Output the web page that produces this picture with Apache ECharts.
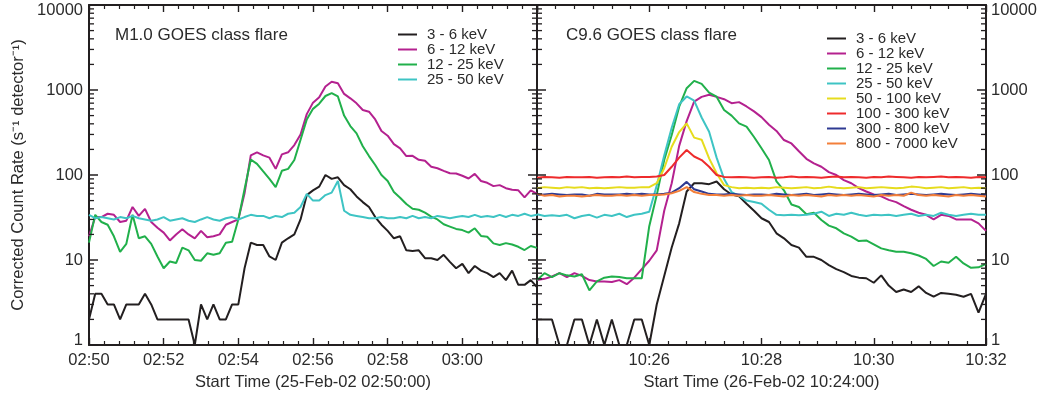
<!DOCTYPE html>
<html>
<head>
<meta charset="utf-8">
<title>RHESSI flare light curves</title>
<script src="https://cdn.jsdelivr.net/npm/echarts@6/dist/echarts.min.js"></script>
<style>
  html, body { margin: 0; padding: 0; background: #ffffff; }
  #chart { width: 1041px; height: 397px; }
</style>
</head>
<body>
<div id="chart"></div>
<script>
// Energy bands and their line colours
const bandNames = ['3 - 6 keV', '6 - 12 keV', '12 - 25 keV', '25 - 50 keV',
                   '50 - 100 keV', '100 - 300 keV', '300 - 800 keV', '800 - 7000 keV'];
const bandColors = ['#231f20', '#b4218f', '#21b04b', '#3ec4c4',
                    '#e6dc1e', '#ee2b2c', '#2e3a92', '#f37f3a'];

// Axis tick labels
const yTickValues = [1, 10, 100, 1000, 10000];
const m1TickLabels = ['02:50', '02:52', '02:54', '02:56', '02:58', '03:00', ''];
const c96TickLabels = ['', '10:26', '10:28', '10:30', '10:32'];

// M1.0 flare, 25-Feb-02 from 02:50:00, one sample every 10 s (counts s^-1 detector^-1)
const m1StepSec = 10;
const m1Rate3to6 = [
  2, 4, 4, 3, 3, 2, 3, 3, 3, 4,
  3, 2, 2, 2, 2, 2, 2, 1, 3, 2,
  3, 2, 2, 3, 3, 8, 16, 15, 15, 11,
  10, 16, 18, 20, 30, 58, 66, 73, 100, 90,
  94, 76, 68, 56, 48, 42, 32, 26, 22, 18,
  19, 13, 12.8, 13, 10.5, 10.5, 10, 11.5, 9.5, 8,
  9, 7, 8.5, 7.5, 7, 6.3, 7, 5.8, 7.5, 5.1,
  5.1, 5.8, 4.8
];
const m1Rate6to12 = [
  19, 32, 32, 35, 34, 28, 29, 42, 33, 40,
  28, 24, 21, 17, 20, 23, 20, 18, 22, 18.5,
  19, 20, 26, 28, 30, 61, 170, 185, 170, 160,
  118, 175, 185, 225, 300, 520, 710, 820, 1100, 1250,
  1200, 900, 798, 697, 582, 556, 450, 330, 290, 231,
  206, 167, 168, 151, 147, 125, 120, 112, 105, 104,
  98, 91, 103, 85, 81, 74, 76, 70, 67, 66,
  54.6, 66, 60
];
const m1Rate12to25 = [
  16, 34, 28, 26, 19, 12.5, 15.5, 34, 18, 19,
  15.5, 11, 8, 9.6, 9.2, 14, 13, 10, 9.8, 12,
  11.5, 12, 16, 16.4, 30, 68, 152, 135, 110, 90,
  72, 112, 118, 150, 260, 450, 600, 690, 850, 920,
  840, 500, 376, 309, 218, 167, 131, 100, 85, 63,
  54, 45.5, 40, 39, 36, 32.4, 30, 26.3, 24.7, 23.2,
  22.5, 21, 23.6, 19.2, 18.8, 15.7, 15, 15.8, 15.2, 14.3,
  13.1, 14.6, 13.9
];
const m1Rate25to50 = [
  34, 31, 32, 31, 30, 32, 31, 33, 31, 30,
  29, 30, 32, 29, 30, 31, 29, 28, 30, 32,
  30, 29, 31, 32, 30, 32, 34, 33, 33, 31,
  33, 32, 35, 36, 42, 60, 50, 50, 58, 62,
  85, 38, 34, 33, 32, 31, 31, 32, 31, 31,
  32, 31, 33, 31, 32, 31, 33, 32, 31, 32,
  33, 32, 34, 32, 33, 32, 34, 32, 34, 33,
  35, 33, 34
];

// C9.6 flare, 26-Feb-02 from 10:24:00, one sample every 8 s
const c96StepSec = 8;
const c96Rate3to6 = [
  2, 2, 2, 1, 1, 2, 2, 1, 2, 1,
  2, 1, 1, 2, 2, 1, 3, 6.5, 14, 27,
  64, 80, 80, 78, 84, 68, 59, 56, 46, 38,
  31, 28, 20.6, 18, 15, 14, 10.9, 10.9, 10, 8.7,
  7.8, 7.2, 6.5, 6.2, 6.1, 5.4, 6.6, 5, 4.2, 4.5,
  4.2, 4.9, 4.1, 3.7, 4.1, 4, 3.9, 3.7, 4, 2.4,
  4
];
const c96Rate6to12 = [
  5.8, 6, 6.4, 7, 6.3, 7, 6.5, 5.8, 5.6, 5.6,
  5.5, 5.8, 5.2, 6.2, 7.8, 9.8, 13, 38, 80, 220,
  430, 730, 830, 880, 830, 780, 700, 720, 640, 560,
  480, 390, 330, 258, 235, 190, 155, 137, 125, 108,
  100, 87, 80, 70, 64, 59, 56, 51, 48, 43,
  39, 36, 34, 30, 34, 33, 30, 30, 30, 27,
  22
];
const c96Rate12to25 = [
  5.8, 7, 6.3, 7, 6.6, 6.4, 6.8, 4.4, 5.6, 6.2,
  6.4, 6.3, 6.1, 6.1, 6.1, 25, 58, 150, 296, 637,
  1050, 1280, 1180, 930, 835, 582, 500, 405, 370, 280,
  206, 150, 84, 66, 45, 42, 34.5, 36, 29.6, 25.4,
  23.6, 20.6, 18.8, 16.7, 17, 15.3, 13.7, 13, 12.5, 12.5,
  12, 11.3, 10.3, 8.5, 9.6, 9.3, 10.9, 9.1, 8.1, 8.2,
  9
];
const c96Rate25to50 = [
  34.5, 33, 33.5, 33, 34, 31, 33, 34, 31.5, 34,
  33, 35, 32, 34, 35, 37, 75, 170, 360, 680,
  840, 750, 475, 323, 160, 90, 63, 57, 50, 48,
  46, 39, 34, 33.5, 34, 33.5, 34, 35, 37, 33,
  35, 34, 36, 34, 33, 34, 33.5, 34, 33, 34,
  35, 33, 34, 33, 36, 34, 33, 34, 35, 34,
  34
];
const c96Rate50to100 = [
  70, 72, 71, 70, 72, 71, 72, 70, 71, 70,
  71, 72, 71, 71, 72, 72, 80, 120, 215, 320,
  405, 275, 260, 157, 105, 76, 72, 70, 71, 70,
  71, 70, 72, 71, 70, 71, 72, 70, 71, 73,
  71, 70, 71, 72, 70, 71, 72, 71, 70, 71,
  73, 72, 70, 71, 72, 70, 71, 72, 70, 71,
  70
];
const c96Rate100to300 = [
  93, 95, 94, 93, 95, 94, 94, 95, 93, 94,
  95, 94, 96, 94, 95, 95, 96, 100, 125, 160,
  197, 165, 150, 125, 100, 95, 94, 95, 94, 93,
  94, 95, 93, 94, 96, 94, 95, 94, 93, 95,
  96, 94, 95, 94, 93, 95, 94, 96, 95, 94,
  93, 95, 94, 95, 96, 94, 95, 94, 93, 95,
  94
];
const c96Rate300to800 = [
  58, 59, 60, 59, 58, 59, 59, 57, 60, 59,
  59, 59, 60, 59, 60, 59, 59, 60, 62, 70,
  83, 68, 64, 60, 59, 59, 60, 59, 58, 59,
  59, 58, 60, 59, 58, 59, 60, 58, 59, 60,
  59, 58, 59, 60, 59, 58, 59, 60, 58, 59,
  60, 59, 58, 59, 60, 59, 58, 59, 60, 59,
  58
];
const c96Rate800to7000 = [
  60, 57, 58, 56, 57, 57, 56, 57, 58, 57,
  57, 58, 57, 58, 57, 58, 58, 59, 61, 65,
  72, 63, 60, 58, 58, 57, 58, 57, 58, 57,
  57, 58, 57, 56, 58, 57, 58, 57, 56, 58,
  57, 58, 57, 58, 57, 56, 58, 57, 58, 57,
  62, 58, 57, 58, 57, 56, 58, 57, 58, 57,
  56
];

// Minor ticks of the logarithmic count-rate axis (2..9 in every decade)
const logMinorTickValues = [
  2, 3, 4, 5, 6, 7, 8, 9,
  20, 30, 40, 50, 60, 70, 80, 90,
  200, 300, 400, 500, 600, 700, 800, 900,
  2000, 3000, 4000, 5000, 6000, 7000, 8000, 9000
];

const FONT = '"Liberation Sans", Arial, Helvetica, sans-serif';
const TEXT_COLOR = '#2b2b2b';
const AXIS_COLOR = '#231f20';

const m1Rates = [m1Rate3to6, m1Rate6to12, m1Rate12to25, m1Rate25to50];
const c96Rates = [c96Rate3to6, c96Rate6to12, c96Rate12to25, c96Rate25to50,
                  c96Rate50to100, c96Rate100to300, c96Rate300to800, c96Rate800to7000];

function samplesToPoints(values, stepSec) {
  return values.map((v, i) => [i * stepSec, v]);
}

function lineSeries(name, color, values, stepSec, gridIdx) {
  return {
    type: 'line',
    name: name,
    xAxisIndex: gridIdx * 2,
    yAxisIndex: gridIdx * 2,
    data: samplesToPoints(values, stepSec),
    showSymbol: false,
    symbol: 'none',
    animation: false,
    lineStyle: { width: 2, color: color },
    itemStyle: { color: color },
    emphasis: { disabled: true }
  };
}

function minorTickSeries(gridIdx) {
  return {
    type: 'custom',
    xAxisIndex: gridIdx * 2,
    yAxisIndex: gridIdx * 2,
    silent: true,
    animation: false,
    z: 5,
    data: logMinorTickValues.map(v => [0, v]),
    renderItem: function (params, api) {
      const cs = params.coordSys;
      const y = api.coord([api.value(0), api.value(1)])[1];
      const style = { stroke: AXIS_COLOR, lineWidth: 1.3 };
      return {
        type: 'group',
        children: [
          { type: 'line', shape: { x1: cs.x, y1: y, x2: cs.x + 5, y2: y }, style: style },
          { type: 'line', shape: { x1: cs.x + cs.width - 5, y1: y, x2: cs.x + cs.width, y2: y }, style: style }
        ]
      };
    }
  };
}

function timeAxis(gridIdx, maxSec, minorSplit, labels, title, isBottom) {
  const axis = {
    gridIndex: gridIdx,
    type: 'value',
    position: isBottom ? 'bottom' : 'top',
    min: 0,
    max: maxSec,
    interval: 120,
    axisLine: { show: true, onZero: false, lineStyle: { color: AXIS_COLOR, width: 2 } },
    axisTick: { show: true, inside: true, length: 7, lineStyle: { color: AXIS_COLOR, width: 1.4 } },
    minorTick: { show: true, splitNumber: minorSplit, length: 4, lineStyle: { color: AXIS_COLOR, width: 1.2 } },
    splitLine: { show: false },
    axisLabel: { show: false }
  };
  if (isBottom) {
    axis.axisLabel = {
      show: true,
      margin: 7,
      fontSize: 16.5,
      fontFamily: FONT,
      color: TEXT_COLOR,
      showMinLabel: true,
      showMaxLabel: true,
      formatter: v => labels[Math.round(v / 120)] || ''
    };
    axis.name = title;
    axis.nameLocation = 'middle';
    axis.nameGap = 25;
    axis.nameTextStyle = { fontSize: 16.5, fontFamily: FONT, color: TEXT_COLOR, verticalAlign: 'top' };
  }
  return axis;
}

function rateAxis(gridIdx, side, showLabels) {
  const axis = {
    gridIndex: gridIdx,
    type: 'log',
    logBase: 10,
    position: side,
    min: 1,
    max: 10000,
    axisLine: { show: true, onZero: false, lineStyle: { color: AXIS_COLOR, width: 2 } },
    axisTick: { show: true, inside: true, length: 9, lineStyle: { color: AXIS_COLOR, width: 1.5 } },
    splitLine: { show: false },
    axisLabel: { show: false }
  };
  if (showLabels) {
    axis.axisLabel = {
      show: true,
      margin: side === 'left' ? 6 : 5,
      fontSize: 16.5,
      fontFamily: FONT,
      color: TEXT_COLOR,
      formatter: function (v) {
        const r = Math.round(v);
        if (r === yTickValues[0]) return '{lo|' + r + '}';
        if (r === yTickValues[yTickValues.length - 1]) return '{hi|' + r + '}';
        return String(r);
      },
      rich: {
        lo: { fontSize: 16.5, fontFamily: FONT, color: TEXT_COLOR, padding: [0, 0, 10, 0] },
        hi: { fontSize: 16.5, fontFamily: FONT, color: TEXT_COLOR, padding: [10, 0, 0, 0] }
      }
    };
  }
  return axis;
}

const legendCommon = {
  orient: 'vertical',
  padding: 0,
  itemWidth: 19,
  itemHeight: 2,
  itemGap: 0,
  icon: 'rect',
  selectedMode: false,
  textStyle: { fontSize: 15, lineHeight: 15, fontFamily: FONT, color: TEXT_COLOR, padding: [0, 0, 0, 5] }
};

const yName0 = rateAxis(0, 'left', true);
yName0.name = 'Corrected Count Rate (s\u207B\u00B9 detector\u207B\u00B9)';
yName0.nameLocation = 'middle';
yName0.nameGap = 62;
yName0.nameRotate = 90;
yName0.nameTextStyle = { fontSize: 16.5, fontFamily: FONT, color: TEXT_COLOR };

const series = [];
m1Rates.forEach((vals, k) => series.push(lineSeries(bandNames[k], bandColors[k], vals, m1StepSec, 0)));
c96Rates.forEach((vals, k) => series.push(lineSeries(bandNames[k], bandColors[k], vals, c96StepSec, 1)));
series.push(minorTickSeries(0));
series.push(minorTickSeries(1));

const option = {
  animation: false,
  backgroundColor: '#ffffff',
  grid: [
    { left: 89, top: 5, width: 448, height: 340 },
    { left: 537, top: 5, width: 449, height: 340 }
  ],
  xAxis: [
    timeAxis(0, 720, 5, m1TickLabels, 'Start Time (25-Feb-02 02:50:00)', true),
    timeAxis(0, 720, 5, m1TickLabels, '', false),
    timeAxis(1, 480, 6, c96TickLabels, 'Start Time (26-Feb-02 10:24:00)', true),
    timeAxis(1, 480, 6, c96TickLabels, '', false)
  ],
  yAxis: [
    yName0,
    rateAxis(0, 'right', false),
    rateAxis(1, 'left', false),
    rateAxis(1, 'right', true)
  ],
  legend: [
    Object.assign({}, legendCommon, { data: bandNames.slice(0, 4), left: 398, top: 27 }),
    Object.assign({}, legendCommon, { data: bandNames.slice(), left: 827, top: 31 })
  ],
  graphic: [
    { type: 'text', x: 115, y: 35.5, silent: true,
      style: { text: 'M1.0 GOES class flare', fontSize: 17, fontFamily: FONT, fill: TEXT_COLOR, verticalAlign: 'middle' } },
    { type: 'text', x: 566, y: 35.5, silent: true,
      style: { text: 'C9.6 GOES class flare', fontSize: 17, fontFamily: FONT, fill: TEXT_COLOR, verticalAlign: 'middle' } }
  ],
  series: series
};

const chart = echarts.init(document.getElementById('chart'), null, { renderer: 'canvas' });
chart.setOption(option);
</script>
</body>
</html>
